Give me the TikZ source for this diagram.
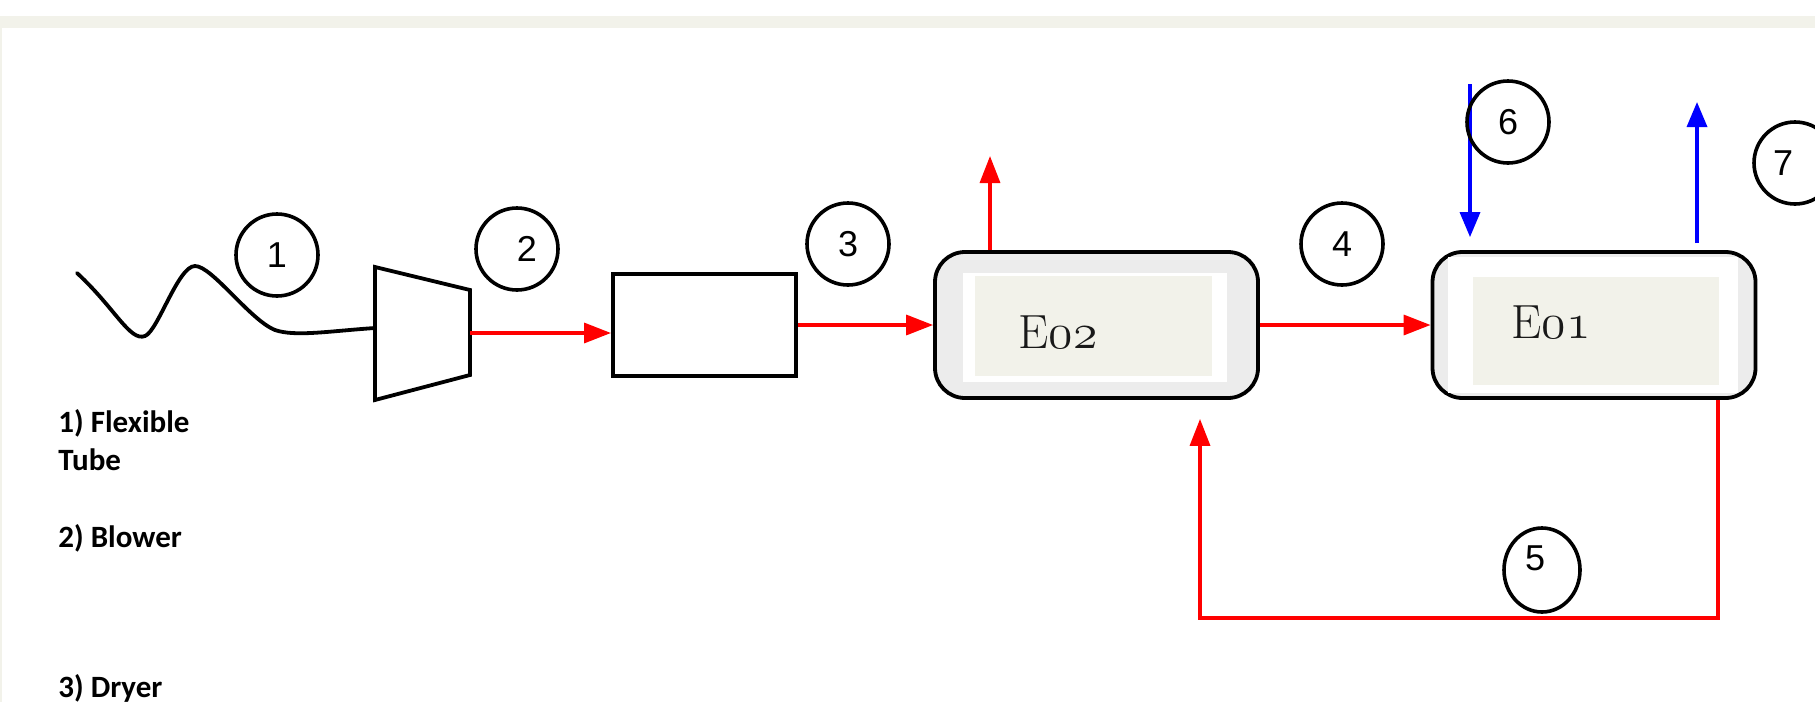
\documentclass[tikz,border=0pt]{standalone}
\usepackage{fontspec}
\usetikzlibrary{arrows.meta,shapes.geometric}
\newfontfamily\numfont{Liberation Sans}
\newfontfamily\lblfont{Carlito}
\definecolor{beige}{RGB}{242,242,234}
\definecolor{boxgray}{RGB}{236,236,236}
\newcommand\osdig[1]{{\usefont{OML}{lmm}{m}{it}#1}}
\tikzset{
  blk/.style={draw=black, line width=1.9pt},
  rflow/.style={draw=red, line width=1.7pt, -{Triangle[length=13.5pt,width=10pt]}},
  bflow/.style={draw=blue, line width=1.7pt, -{Triangle[length=12.5pt,width=10pt]}},
  numc/.style={circle, draw, line width=1.8pt, minimum size=41pt, inner sep=0pt,
    font=\numfont\fontsize{18}{20}\selectfont},
  ebox/.style={rectangle, rounded corners=15pt, draw, line width=1.9pt, fill=boxgray,
    minimum width=161.5pt, minimum height=73pt},
  lbl/.style={anchor=base west, inner sep=0pt, font=\lblfont\bfseries\fontsize{15.5}{18}\selectfont},
  etext/.style={anchor=base, inner sep=0pt, font=\fontsize{24}{28}\selectfont, text=black!90}
}
\begin{document}
\begin{tikzpicture}[x=0.5pt,y=-0.5pt]
\useasboundingbox (0,0) rectangle (1815,702);
\fill[white] (0,0) rectangle (1815,702);
\fill[beige] (0,16) rectangle (1815,28);
\fill[beige] (0,28) rectangle (2,702);

% flexible tube and blower
\coordinate (blowIn) at (375,328);
\coordinate (blowOut) at (470,333);
\draw[blk, line join=miter] (375,267) -- (470,290) -- (470,375) -- (375,400) -- cycle;
\draw[blk, line cap=round] (77,273) .. controls (115,308) and (130,342) .. (145,336)
  .. controls (158,331) and (178,266) .. (195,266)
  .. controls (212,266) and (250,320) .. (275,330)
  .. controls (295,337) and (330,331) .. (blowIn);

% dryer
\node[rectangle, draw, line width=2pt, minimum width=91.5pt, minimum height=51pt] (dryer) at (704.5,325) {};

% E02
\node[ebox] (E2) at (1096.5,325) {};
\fill[white] (963,273) rectangle (1227,382);
\fill[beige] (975,276) rectangle (1212,376);
\node[etext] (t2) at (1058,348) {E\osdig{02}};

% E01
\node[ebox] (E1) at (1594,325) {};
\fill[white] (1448,257) rectangle (1738,393);
\fill[beige] (1473,277) rectangle (1719,385);
\node[etext] (t1) at (1551,338) {E\osdig{01}};

% flows
\draw[rflow] (blowOut) -- (blowOut -| dryer.west);
\draw[rflow] (dryer.east) -- (E2.west);
\draw[rflow] (E2.east) -- (E1.west);
\coordinate (e2up) at (990,156);
\draw[rflow] (e2up |- E2.north) -- (e2up);
\coordinate (b6) at (1470,84);
\draw[bflow, shorten >=6.5pt] (b6) -- (b6 |- E1.north);
\coordinate (b7) at (1697,102);
\draw[bflow, shorten <=3.5pt] (b7 |- E1.north) -- (b7);
\coordinate (lR) at (1718,618);
\coordinate (lL) at (1200,618);
\draw[rflow, shorten >=9.5pt, line join=miter] (lR |- E1.south) -- (lR) -- (lL) -- (lL |- E2.south);

% numbered circles
\node[numc] (c1) at (277,255) {1};
\node[numc] (c2) at (517,249) {\hspace*{10pt}2};
\node[numc] (c3) at (848,244) {3};
\node[numc] (c4) at (1342,244) {4};
\node[numc, ellipse, minimum width=38pt, minimum height=42pt,
  label={[shift={(-3.5pt,6pt)}, font=\numfont\fontsize{18}{20}\selectfont]center:5}] (c5) at (1542,570) {};
\node[numc] (c6) at (1508,122) {6};
\node[numc, label={[xshift=-6pt, font=\numfont\fontsize{18}{20}\selectfont]center:7}] (c7) at (1795,163) {};

% legend
\node[lbl] (l1) at (58,432) {1) Flexible};
\node[lbl] (l1b) at (58,470) {Tube};
\node[lbl] (l2) at (58,547) {2) Blower};
\node[lbl] (l3) at (58,697) {3) Dryer};
\end{tikzpicture}
\end{document}
